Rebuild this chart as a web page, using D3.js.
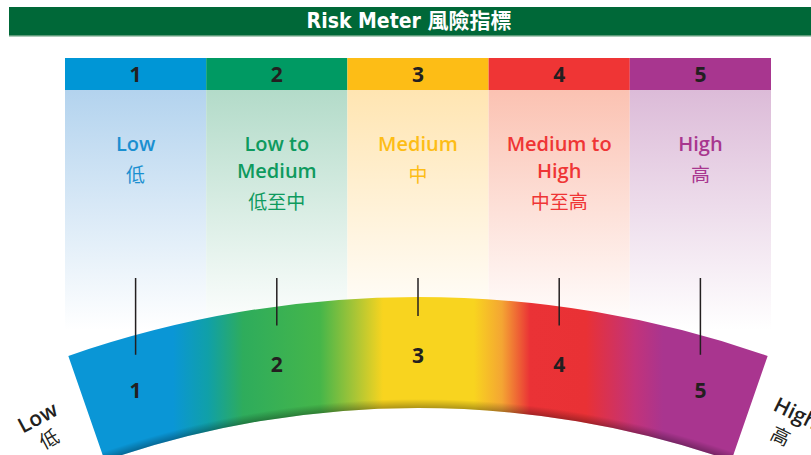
<!DOCTYPE html>
<html>
<head>
<meta charset="utf-8">
<script src="https://cdn.jsdelivr.net/npm/d3@7"></script>
<style>
  body { margin: 0; background: #fff; }
  svg { display: block; }
</style>
</head>
<body>
<svg id="chart"></svg>
<script>
const width = 811;
const height = 455;

// risk levels and their labels
const levels = [1, 2, 3, 4, 5];
const labelEn = [["Low"], ["Low to", "Medium"], ["Medium"], ["Medium to", "High"], ["High"]];
const labelZh = ["低", "低至中", "中", "中至高", "高"];
const titleText = "Risk Meter 風險指標";
const endLabels = [["Low", "低"], ["High", "高"]];

const levelColors = ["#0096d6", "#009a63", "#fdbd16", "#ef3535", "#a8368f"];
const textColors = ["#1a8fd0", "#0e9a5e", "#fdbd16", "#ef3535", "#a8368f"];
const lightColors = ["#b3d3ee", "#b3dbc9", "#ffe5b2", "#fbc2b2", "#dcbbd8"];

// colour stops along the arc (offset, colour)
const arcStops = [
    [0.00, "#0a96d6"], [0.15, "#0a96d6"], [0.20, "#10a0a8"], [0.25, "#2eac5c"],
    [0.36, "#45b64a"], [0.41, "#a8c536"], [0.45, "#f8d41f"], [0.58, "#f8d41f"],
    [0.62, "#f4a533"], [0.66, "#ea3236"], [0.74, "#e93135"], [0.81, "#c2337a"],
    [0.85, "#a9358f"], [1.00, "#a9358f"]
];

const svg = d3.select("#chart").attr("width", width).attr("height", height);
const defs = svg.append("defs");

// title bar
svg.append("rect").attr("x", 9).attr("y", 7).attr("width", width - 9).attr("height", 29).attr("fill", "#006838");
svg.append("rect").attr("x", 9).attr("y", 35).attr("width", width - 9).attr("height", 1.5).attr("fill", "#5c9a78");
svg.append("text")
    .attr("x", 409).attr("y", 28)
    .attr("text-anchor", "middle")
    .attr("fill", "#fff")
    .style("font-family", "'DejaVu Sans Condensed', 'Noto Sans CJK TC', sans-serif")
    .style("font-weight", "bold")
    .style("font-size", "21px")
    .text(titleText);

const x = d3.scaleBand().domain(levels).range([65, 771]).padding(0);
const mid = d => x(d) + x.bandwidth() / 2;
const headerTop = 58, headerH = 32, colBottom = 330;

// column fade gradients
levels.forEach((d, i) => {
    const g = defs.append("linearGradient").attr("id", "col" + d)
        .attr("x1", 0).attr("y1", 0).attr("x2", 0).attr("y2", 1);
    g.append("stop").attr("offset", 0).attr("stop-color", lightColors[i]);
    g.append("stop").attr("offset", 1).attr("stop-color", "#fff");
});

const cols = svg.append("g").selectAll("g").data(levels).enter().append("g");

cols.append("rect")
    .attr("x", d => x(d)).attr("y", headerTop + headerH)
    .attr("width", x.bandwidth()).attr("height", colBottom - headerTop - headerH)
    .attr("fill", d => `url(#col${d})`);

cols.append("rect")
    .attr("x", d => x(d)).attr("y", headerTop)
    .attr("width", x.bandwidth()).attr("height", headerH)
    .attr("fill", (d, i) => levelColors[i]);

cols.append("text")
    .attr("x", mid).attr("y", headerTop + 24)
    .attr("text-anchor", "middle")
    .attr("fill", "#231f20")
    .style("font-family", "'Open Sans', sans-serif")
    .style("font-weight", "bold")
    .style("font-size", "21px")
    .text(d => d);

cols.each(function(d, i) {
    const g = d3.select(this);
    labelEn[i].forEach((line, j) => {
        g.append("text")
            .attr("x", mid(d)).attr("y", 151 + j * 27)
            .attr("text-anchor", "middle")
            .attr("fill", textColors[i])
            .style("font-family", "'Open Sans', sans-serif")
            .style("font-weight", 600)
            .style("font-size", "20px")
            .text(line);
    });
    g.append("text")
        .attr("x", mid(d)).attr("y", 151 + labelEn[i].length * 27 + 4)
        .attr("text-anchor", "middle")
        .attr("fill", textColors[i])
        .style("font-family", "'Noto Sans CJK TC', sans-serif")
        .style("font-size", "19px")
        .text(labelZh[i]);
});

// arc geometry
const cxArc = 418, cyArc = 1364, rOuter = 1067, rInner = 956;
const halfAngle = Math.atan2(350, 1009);
const yOn = (px, r) => cyArc - Math.sqrt(r * r - (px - cxArc) * (px - cxArc));
// numbers sit on a flatter curve than the band
const numR = 1161, numTop = 355;
const yNum = px => numTop + numR - Math.sqrt(numR * numR - (px - cxArc) * (px - cxArc));

const arcGrad = defs.append("linearGradient").attr("id", "arcGrad")
    .attr("gradientUnits", "userSpaceOnUse")
    .attr("x1", 68 - cxArc).attr("x2", 768 - cxArc).attr("y1", 0).attr("y2", 0);
arcStops.forEach(s => arcGrad.append("stop").attr("offset", s[0]).attr("stop-color", s[1]));

const shade = defs.append("radialGradient").attr("id", "arcShade")
    .attr("gradientUnits", "userSpaceOnUse")
    .attr("cx", 0).attr("cy", 0).attr("r", rOuter);
shade.append("stop").attr("offset", rInner / rOuter).attr("stop-color", "#000").attr("stop-opacity", 0.3);
shade.append("stop").attr("offset", (rInner + 9) / rOuter).attr("stop-color", "#000").attr("stop-opacity", 0);
shade.append("stop").attr("offset", 1).attr("stop-color", "#000").attr("stop-opacity", 0);

const arc = d3.arc().innerRadius(rInner).outerRadius(rOuter)
    .startAngle(-halfAngle).endAngle(halfAngle);

const arcG = svg.append("g").attr("transform", `translate(${cxArc},${cyArc})`);
arcG.append("path").attr("d", arc()).attr("fill", "url(#arcGrad)");
arcG.append("path").attr("d", arc()).attr("fill", "url(#arcShade)");

// tick lines
svg.append("g").selectAll("line").data(levels).enter().append("line")
    .attr("x1", mid).attr("x2", mid)
    .attr("y1", 278).attr("y2", d => yOn(mid(d), 1048))
    .attr("stroke", "#231f20").attr("stroke-width", 1.5);

// numbers on the arc
svg.append("g").selectAll("text").data(levels).enter().append("text")
    .attr("x", mid)
    .attr("y", d => yNum(mid(d)) + 8)
    .attr("text-anchor", "middle")
    .attr("fill", "#231f20")
    .style("font-family", "'Open Sans', sans-serif")
    .style("font-weight", "bold")
    .style("font-size", "21px")
    .text(d => d);

// end labels: [x, y, rotation, zh dx, zh dy]
const endPos = [[41, 424, -28, 0, 24], [793, 420, 26, -4, 27]];
endLabels.forEach((pair, i) => {
    const [px, py, rot, zx, zy] = endPos[i];
    const g = svg.append("g").attr("transform", `translate(${px},${py}) rotate(${rot})`);
    g.append("text").attr("text-anchor", "middle").attr("fill", "#231f20")
        .style("font-family", "'Open Sans', sans-serif").style("font-weight", 600).style("font-size", "21px")
        .text(pair[0]);
    g.append("text").attr("x", zx).attr("y", zy).attr("text-anchor", "middle").attr("fill", "#231f20")
        .style("font-family", "'Noto Sans CJK TC', sans-serif").style("font-size", "19px")
        .text(pair[1]);
});
</script>
</body>
</html>
